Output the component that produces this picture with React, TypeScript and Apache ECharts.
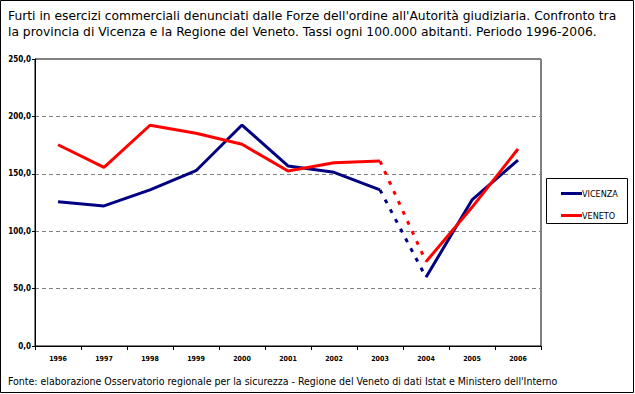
import React, { useEffect, useRef } from "react";
import * as echarts from "echarts";

const years = ["1996", "1997", "1998", "1999", "2000", "2001", "2002", "2003", "2004", "2005", "2006"];
const vicenza = [125.7, 122, 136, 152.7, 192.5, 156.8, 151.3, 136, 59.8, 127.2, 162];
const veneto = [175.3, 155.6, 192.3, 185.3, 175.7, 152.4, 159.7, 161.1, 73.4, 120.8, 171.6];
const yTicks = [0, 50, 100, 150, 200, 250];

const titleText =
  "Furti in esercizi commerciali denunciati dalle Forze dell'ordine all'Autorità giudiziaria. Confronto tra\nla provincia di Vicenza e la Regione del Veneto. Tassi ogni 100.000 abitanti. Periodo 1996-2006.";
const sourceText =
  "Fonte: elaborazione Osservatorio regionale per la sicurezza - Regione del Veneto di dati Istat e Ministero dell'Interno";

const FONT = "DejaVu Sans Condensed";
const TITLE_FONT = "DejaVu Sans";

function seg(arr: number[], from: number, to: number) {
  return arr.map((v, i) => (i >= from && i <= to ? v : null));
}

function makeSeries(name: string, data: number[], color: string) {
  const base = {
    name,
    type: "line",
    symbol: "none",
    connectNulls: false,
    color,
  };
  return [
    { ...base, data: seg(data, 0, 7), lineStyle: { color, width: 3 } },
    { ...base, data: seg(data, 7, 8), lineStyle: { color, width: 3, type: [4, 7] } },
    { ...base, data: seg(data, 8, 10), lineStyle: { color, width: 3 } },
  ];
}

export default function App() {
  const ref = useRef<HTMLDivElement>(null);
  useEffect(() => {
    document.body.style.margin = "0";
    const chart = echarts.init(ref.current!, null, { renderer: "svg" });
    chart.setOption({
      animation: false,
      backgroundColor: "#ffffff",
      textStyle: { fontFamily: FONT },
      title: {
        text: titleText,
        left: 3,
        top: 3,
        textStyle: { fontFamily: TITLE_FONT, fontSize: 12.3, fontWeight: "normal", color: "#000", lineHeight: 16 },
      },
      grid: {
        left: 35,
        top: 59,
        right: 94,
        bottom: 48,
        show: true,
        borderColor: "#000",
        borderWidth: 1,
        backgroundColor: "transparent",
      },
      legend: {
        orient: "vertical",
        left: 556,
        top: 184,
        itemWidth: 21,
        itemHeight: 3,
        itemGap: 13,
        icon: "rect",
        data: ["VICENZA", "VENETO"],
        textStyle: { fontFamily: FONT, fontSize: 9, color: "#000", padding: [0, 0, 0, -5] },
      },
      xAxis: {
        type: "category",
        data: years,
        boundaryGap: true,
        axisLine: { lineStyle: { color: "#000", width: 1 } },
        axisTick: { show: true, length: 4, lineStyle: { color: "#000" } },
        axisLabel: { fontFamily: FONT, fontSize: 7, fontWeight: "bold", color: "#000", margin: 9 },
        splitLine: { show: false },
      },
      yAxis: {
        type: "value",
        min: 0,
        max: 250,
        interval: 50,
        axisLine: { show: true, lineStyle: { color: "#000", width: 1 } },
        axisTick: { show: true, length: 3, lineStyle: { color: "#000" } },
        axisLabel: {
          fontFamily: FONT,
          fontSize: 8,
          fontWeight: "bold",
          color: "#000",
          margin: 4,
          formatter: (v: number) => (yTicks.includes(v) ? v.toFixed(1).replace(".", ",") : ""),
        },
        splitLine: { show: true, lineStyle: { color: "#808080", type: [4, 3], width: 1 } },
      },
      graphic: [
        {
          type: "rect",
          shape: { x: 0.5, y: 0.5, width: 633, height: 392 },
          style: { fill: "none", stroke: "#000", lineWidth: 1 },
          silent: true,
        },
        {
          type: "rect",
          shape: { x: 546.5, y: 178.5, width: 81, height: 45 },
          style: { fill: "none", stroke: "#000", lineWidth: 1 },
          silent: true,
        },
        {
          type: "text",
          left: 8,
          top: 375,
          style: { text: sourceText, font: `10.5px "${FONT}"`, fill: "#000" },
          silent: true,
        },
      ],
      series: [...makeSeries("VICENZA", vicenza, "#000080"), ...makeSeries("VENETO", veneto, "#ff0000")],
    });
    return () => chart.dispose();
  }, []);
  return <div ref={ref} style={{ width: 635, height: 394 }} />;
}
